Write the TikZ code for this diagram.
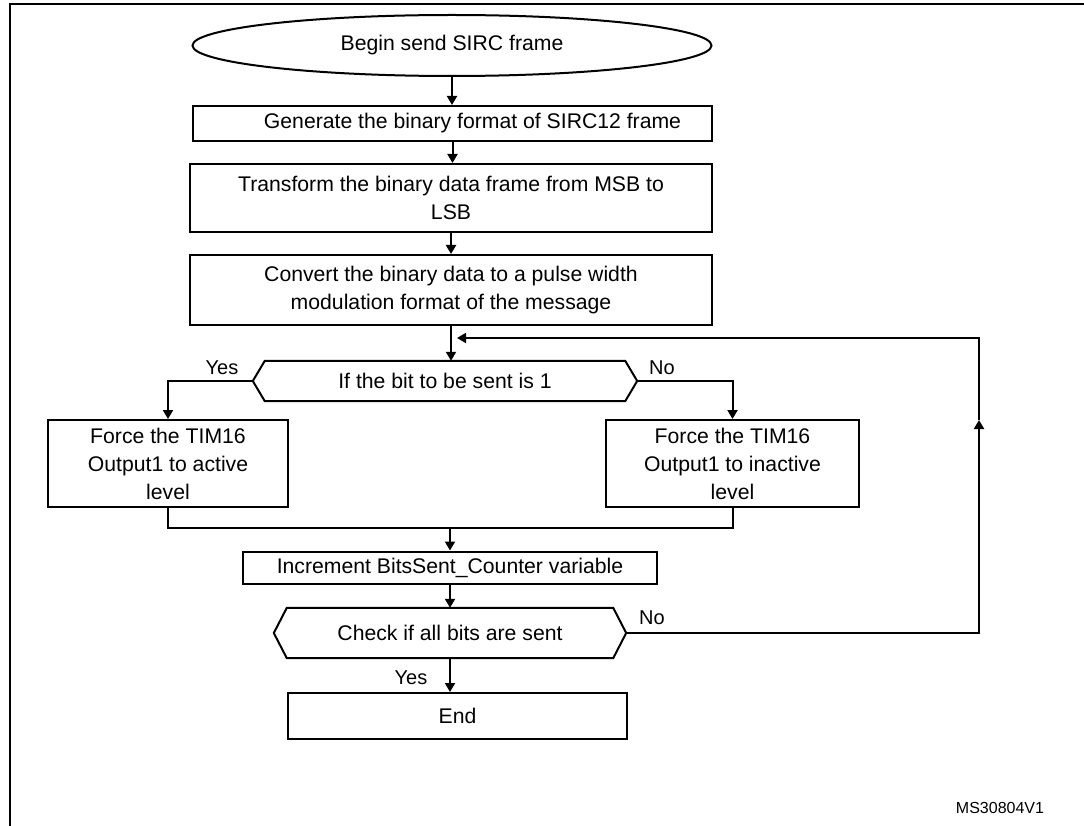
\documentclass[tikz,border=0pt]{standalone}
\usepackage{fontspec}
\setmainfont{Liberation Sans}
\usetikzlibrary{shapes.geometric,arrows.meta,calc}

\begin{document}
\begin{tikzpicture}[x=1pt,y=-1pt,
  every node/.style={font=\fontsize{21.2}{28}\selectfont, inner sep=0pt, align=center},
  line/.style={line width=2pt},
  arr/.style={line, -{Triangle[width=10pt,length=9pt]}},
  procbox/.style={draw, line width=2pt, rectangle},
  decbox/.style={rectangle},
  lbl/.style={font=\fontsize{20}{24}\selectfont}
]
\useasboundingbox (0,0) rectangle (1084,826);

% page frame (left and top edges)
\draw[line width=2.6pt] (10,830) -- (10,4) -- (1090,4);

% main column
\node[ellipse, draw, line width=2pt, minimum width=519, minimum height=61] (start) at (452,45.5) {Begin send SIRC frame};
\node[procbox, minimum width=519, minimum height=35] (gen) at (452.5,123.5) {\hspace*{40pt}Generate the binary format of SIRC12 frame};
\node[procbox, minimum width=522, minimum height=68] (trans) at (451,198) {Transform the binary data frame from MSB to\\LSB};
\node[procbox, minimum width=522, minimum height=70] (conv) at (451,290) {Convert the binary data to a pulse width\\modulation format of the message};

% first decision
\node[decbox, minimum width=384, minimum height=40] (dec1) at (445,381) {If the bit to be sent is 1};
\draw[line] (dec1.west) -- ($(dec1.north west)+(12,0)$) -- ($(dec1.north east)+(-12,0)$) -- (dec1.east)
  -- ($(dec1.south east)+(-12,0)$) -- ($(dec1.south west)+(12,0)$) -- cycle;

\node[procbox, minimum width=240, minimum height=87] (act) at (168,463.5) {Force the TIM16\\Output1 to active\\level};
\node[procbox, minimum width=253, minimum height=87] (inact) at (732.5,463.5) {Force the TIM16\\Output1 to inactive\\level};

\node[procbox, minimum width=414, minimum height=32] (inc) at (450,567.5) {Increment BitsSent\_Counter variable};

% second decision
\node[decbox, minimum width=352, minimum height=50] (dec2) at (450,633) {Check if all bits are sent};
\draw[line] (dec2.west) -- ($(dec2.north west)+(13,0)$) -- ($(dec2.north east)+(-13,0)$) -- (dec2.east)
  -- ($(dec2.south east)+(-13,0)$) -- ($(dec2.south west)+(13,0)$) -- cycle;

\node[procbox, minimum width=339, minimum height=46] (end) at (457.5,716) {End};

% branch labels
\node[lbl] (yes1) at (222,368) {Yes};
\node[lbl] (no1) at (662,368) {No};
\node[lbl] (no2) at (652,618) {No};
\node[lbl] (yes2) at (411,678) {Yes};

\node[font=\fontsize{16}{18}\selectfont] (ref) at (1000,808) {MS30804V1};

% connectors
\draw[arr] (start.south) -- (start.south |- gen.north);
\draw[arr] (gen.south) -- (gen.south |- trans.north);
\draw[arr] (trans.south) -- (trans.south |- conv.north);
\draw[arr] (conv.south) -- (conv.south |- dec1.north);
\draw[arr] (dec1.west) -| (act.north);
\draw[arr] (dec1.east) -| (inact.north);
\draw[line] (act.south) -- ++(0,20) coordinate (ml) -| (inact.south);
\coordinate (mj) at (inc.north |- ml);
\draw[arr] (mj) -- (inc.north);
\draw[arr] (inc.south) -- (inc.south |- dec2.north);
\draw[arr] (dec2.south) -- (dec2.south |- end.north);

% loop back to the first decision
\coordinate (lp) at (979,420);
\coordinate (li) at (457,338);
\draw[arr] (dec2.east) -| (lp);
\draw[arr] (lp) |- (li);
\end{tikzpicture}
\end{document}
